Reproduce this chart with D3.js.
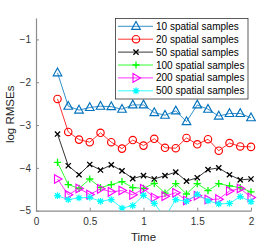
<!DOCTYPE html>
<html>
<head>
<meta charset="utf-8">
<script src="https://d3js.org/d3.v7.min.js"></script>
<style>
  body { margin: 0; background: #fff; }
  svg { font-family: "Liberation Sans", Arial, sans-serif; }
</style>
</head>
<body>
<svg width="278" height="245"></svg>
<script>
var times = [0.2,0.3,0.4,0.5,0.6,0.7,0.8,0.9,1.0,1.1,1.2,1.3,1.4,1.5,1.6,1.7,1.8,1.9,2.0];
var s10  = [-1.78,-2.56,-2.65,-2.59,-2.56,-2.57,-2.63,-2.53,-2.53,-2.71,-2.77,-2.67,-2.92,-2.53,-2.63,-2.79,-2.73,-2.73,-2.83];
var s20  = [-2.39,-3.16,-3.34,-3.40,-3.18,-3.40,-3.55,-3.35,-3.48,-3.32,-3.53,-3.54,-3.30,-3.45,-3.33,-3.60,-3.42,-3.50,-3.51];
var s50  = [-3.21,-3.95,-4.16,-3.92,-4.05,-3.93,-4.07,-4.25,-4.18,-4.26,-4.18,-4.10,-4.31,-4.23,-4.04,-4.00,-4.16,-4.28,-4.26];
var s100 = [-3.87,-4.39,-4.48,-4.26,-4.46,-4.39,-4.32,-4.46,-4.48,-4.36,-4.59,-4.37,-4.61,-4.37,-4.53,-4.37,-4.42,-4.46,-4.56];
var s200 = [-4.26,-4.63,-4.48,-4.62,-4.49,-4.56,-4.53,-4.63,-4.49,-4.69,-4.66,-4.58,-4.76,-4.65,-4.74,-4.73,-4.54,-4.48,-4.69];
var s500 = [-4.65,-4.74,-4.70,-4.69,-4.78,-4.74,-4.94,-4.88,-4.64,-4.83,-5.15,-4.74,-4.78,-4.62,-4.77,-4.84,-4.83,-4.67,-4.79];
var seriesNames = ["10 spatial samples","20 spatial samples","50 spatial samples","100 spatial samples","200 spatial samples","500 spatial samples"];
var xTicks = [0, 0.5, 1, 1.5, 2];
var yTicks = [-1, -2, -3, -4, -5];

var series = [
  {name: seriesNames[0], values: s10,  color: "#0072bd", marker: "tri"},
  {name: seriesNames[1], values: s20,  color: "#ff0000", marker: "circle"},
  {name: seriesNames[2], values: s50,  color: "#000000", marker: "x"},
  {name: seriesNames[3], values: s100, color: "#00ff00", marker: "plus"},
  {name: seriesNames[4], values: s200, color: "#ff00ff", marker: "right"},
  {name: seriesNames[5], values: s500, color: "#00ffff", marker: "star"}
];

var svg = d3.select("svg");
var pLeft = 36, pRight = 251, pTop = 18, pBottom = 210.7;

var x = d3.scaleLinear().domain([0, 2]).range([pLeft, pRight]);
var y = d3.scaleLinear().domain([-5, -0.5]).range([pBottom, pTop]);

svg.append("clipPath").attr("id", "clip")
  .append("rect").attr("x", pLeft).attr("y", pTop).attr("width", pRight - pLeft + 6).attr("height", pBottom - pTop);

// axes
var axisColor = "#8c8c8c";
var xAxis = svg.append("g").attr("transform", "translate(0," + pBottom + ")")
  .call(d3.axisBottom(x).tickValues(xTicks).tickSizeInner(-3).tickSizeOuter(0).tickPadding(7).tickFormat(d3.format("")));
var yAxis = svg.append("g").attr("transform", "translate(" + pLeft + ",0)")
  .call(d3.axisLeft(y).tickValues(yTicks).tickSizeInner(-3).tickSizeOuter(0).tickPadding(5).tickFormat(d3.format("")));
[xAxis, yAxis].forEach(function(a) {
  a.select(".domain").attr("stroke", axisColor).attr("stroke-width", 1.2);
  a.selectAll(".tick line").attr("stroke", axisColor);
  a.selectAll(".tick text").attr("fill", "#333").style("font-size", "10px").style("font-family", "Liberation Sans, Arial, sans-serif");
});

svg.append("text").attr("x", (pLeft + pRight) / 2).attr("y", 241)
  .attr("text-anchor", "middle").attr("fill", "#262626").style("font-size", "11.5px").text("Time");
svg.append("text").attr("transform", "translate(14," + ((pTop + pBottom) / 2) + ") rotate(-90)")
  .attr("text-anchor", "middle").attr("fill", "#262626").style("font-size", "11.5px").text("log RMSEs");

function drawMarker(g, type, color) {
  if (type === "tri") {
    g.append("path").attr("d", "M0,-4.8L4.3,3L-4.3,3Z").attr("fill", "none").attr("stroke", color).attr("stroke-width", 1.15);
  } else if (type === "circle") {
    g.append("circle").attr("r", 3.7).attr("fill", "none").attr("stroke", color).attr("stroke-width", 1.15);
  } else if (type === "x") {
    g.append("path").attr("d", "M-2.6,-2.6L2.6,2.6M-2.6,2.6L2.6,-2.6").attr("stroke", color).attr("stroke-width", 1.3);
  } else if (type === "plus") {
    g.append("path").attr("d", "M-3.6,0L3.6,0M0,-3.6L0,3.6").attr("stroke", color).attr("stroke-width", 1.3);
  } else if (type === "right") {
    g.append("path").attr("d", "M4.5,0L-3,-4.3L-3,4.3Z").attr("fill", "none").attr("stroke", color).attr("stroke-width", 1.15);
  } else if (type === "star") {
    g.append("path").attr("d", "M-3.4,0L3.4,0M0,-3.4L0,3.4M-2.5,-2.5L2.5,2.5M-2.5,2.5L2.5,-2.5").attr("stroke", color).attr("stroke-width", 1.2);
  }
}

var line = d3.line().x(function(d, i) { return x(times[i]); }).y(function(d) { return y(d); });
var plot = svg.append("g").attr("clip-path", "url(#clip)");
series.forEach(function(s) {
  plot.append("path").datum(s.values).attr("d", line)
    .attr("fill", "none").attr("stroke", s.color).attr("stroke-width", 0.8);
  s.values.forEach(function(v, i) {
    var g = plot.append("g").attr("transform", "translate(" + x(times[i]) + "," + y(v) + ")");
    drawMarker(g, s.marker, s.color);
  });
});

// legend
var lg = svg.append("g");
lg.append("rect").attr("x", 115.5).attr("y", 18.5).attr("width", 132.5).attr("height", 80.5)
  .attr("fill", "#fff").attr("stroke", "#333").attr("stroke-width", 0.8);
series.forEach(function(s, i) {
  var yy = 26.3 + i * 12.9;
  lg.append("line").attr("x1", 118).attr("x2", 153).attr("y1", yy).attr("y2", yy)
    .attr("stroke", s.color).attr("stroke-width", 0.8);
  drawMarker(lg.append("g").attr("transform", "translate(136," + yy + ")"), s.marker, s.color);
  lg.append("text").attr("x", 156).attr("y", yy + 3.5).attr("fill", "#000")
    .style("font-size", "10px").text(s.name);
});
</script>
</body>
</html>
